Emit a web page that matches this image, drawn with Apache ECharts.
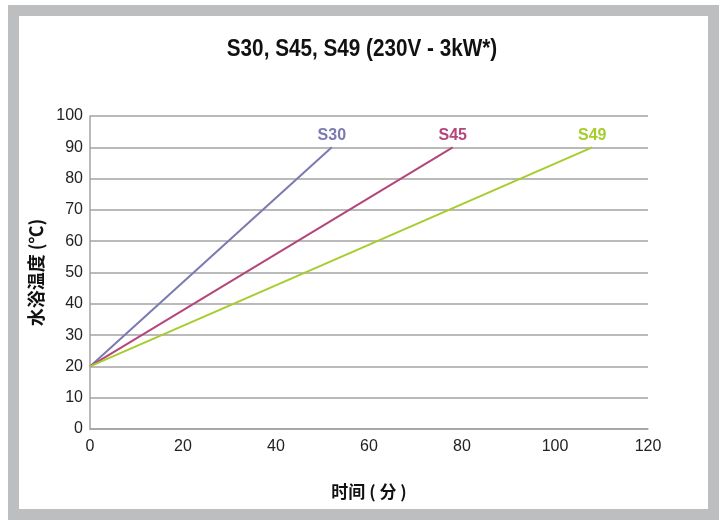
<!DOCTYPE html>
<html>
<head>
<meta charset="utf-8">
<script src="https://cdn.jsdelivr.net/npm/echarts@6/dist/echarts.min.js"></script>
<style>
html, body { margin: 0; padding: 0; background: #fff; }
#chart { width: 724px; height: 520px; }
</style>
</head>
<body>
<div id="chart"></div>
<script>
// 数据
const seriesNames = ['S30', 'S45', 'S49'];
const seriesColors = ['#7a79b0', '#b4467a', '#a6cd2d'];
const startPoint = [0, 20];           // 起始 (分, ℃)
const endTimes = [52, 78, 108];       // 到达 90℃ 的时间
const endTemp = 90;
const xTicks = [0, 20, 40, 60, 80, 100, 120];
const yTicks = [0, 10, 20, 30, 40, 50, 60, 70, 80, 90, 100];

const chart = echarts.init(document.getElementById('chart'));

const series = seriesNames.map((name, i) => ({
    name: name,
    type: 'line',
    data: [startPoint, [endTimes[i], endTemp]],
    symbol: 'none',
    lineStyle: { color: seriesColors[i], width: 2 },
    markPoint: {
        symbol: 'circle',
        symbolSize: 0,
        data: [{ coord: [endTimes[i], endTemp] }],
        label: {
            show: true,
            position: 'top',
            distance: 4,
            formatter: name,
            color: seriesColors[i],
            fontFamily: 'Liberation Sans',
            fontWeight: 'bold',
            fontSize: 16
        }
    }
}));

const option = {
    animation: false,
    backgroundColor: '#fff',
    graphic: [{
        type: 'rect',
        shape: { x: 13.5, y: 10.5, width: 700, height: 504 },
        style: { fill: 'none', stroke: '#bdbec0', lineWidth: 11 },
        silent: true
    }, {
        // 标题 (压缩字体效果)
        type: 'text',
        x: 362,
        y: 50,
        scaleX: 0.9,
        style: {
            text: 'S30, S45, S49 (230V - 3kW*)',
            fontFamily: 'Liberation Sans',
            fontWeight: 'bold',
            fontSize: 23,
            fill: '#111',
            align: 'center',
            verticalAlign: 'middle'
        },
        silent: true
    }],
    grid: { left: 90, right: 76, top: 116, bottom: 91 },
    xAxis: {
        type: 'value',
        min: xTicks[0],
        max: xTicks[xTicks.length - 1],
        interval: 20,
        name: '时间 ( 分 )',
        nameLocation: 'middle',
        nameGap: 54,
        nameTextStyle: {
            fontFamily: 'Noto Sans CJK SC',
            fontWeight: 'bold',
            fontSize: 17,
            color: '#111'
        },
        axisLine: { show: true, lineStyle: { color: '#a3a3a3', width: 1.5 } },
        axisTick: { show: false },
        splitLine: { show: false },
        axisLabel: {
            margin: 10,
            fontFamily: 'Liberation Sans',
            fontSize: 16,
            color: '#222'
        }
    },
    yAxis: {
        type: 'value',
        min: yTicks[0],
        max: yTicks[yTicks.length - 1],
        interval: 10,
        name: '水浴温度 (℃)',
        nameLocation: 'middle',
        nameGap: 40,
        nameRotate: 90,
        nameTextStyle: {
            fontFamily: 'Noto Sans CJK SC',
            fontWeight: 'bold',
            fontSize: 18,
            color: '#111'
        },
        axisLine: { show: true, lineStyle: { color: '#a3a3a3', width: 1.5 } },
        axisTick: { show: false },
        splitLine: { show: true, lineStyle: { color: '#a3a3a3', width: 1.5 } },
        axisLabel: {
            margin: 7,
            fontFamily: 'Liberation Sans',
            fontSize: 16,
            color: '#222'
        }
    },
    series: series
};

chart.setOption(option);
</script>
</body>
</html>
